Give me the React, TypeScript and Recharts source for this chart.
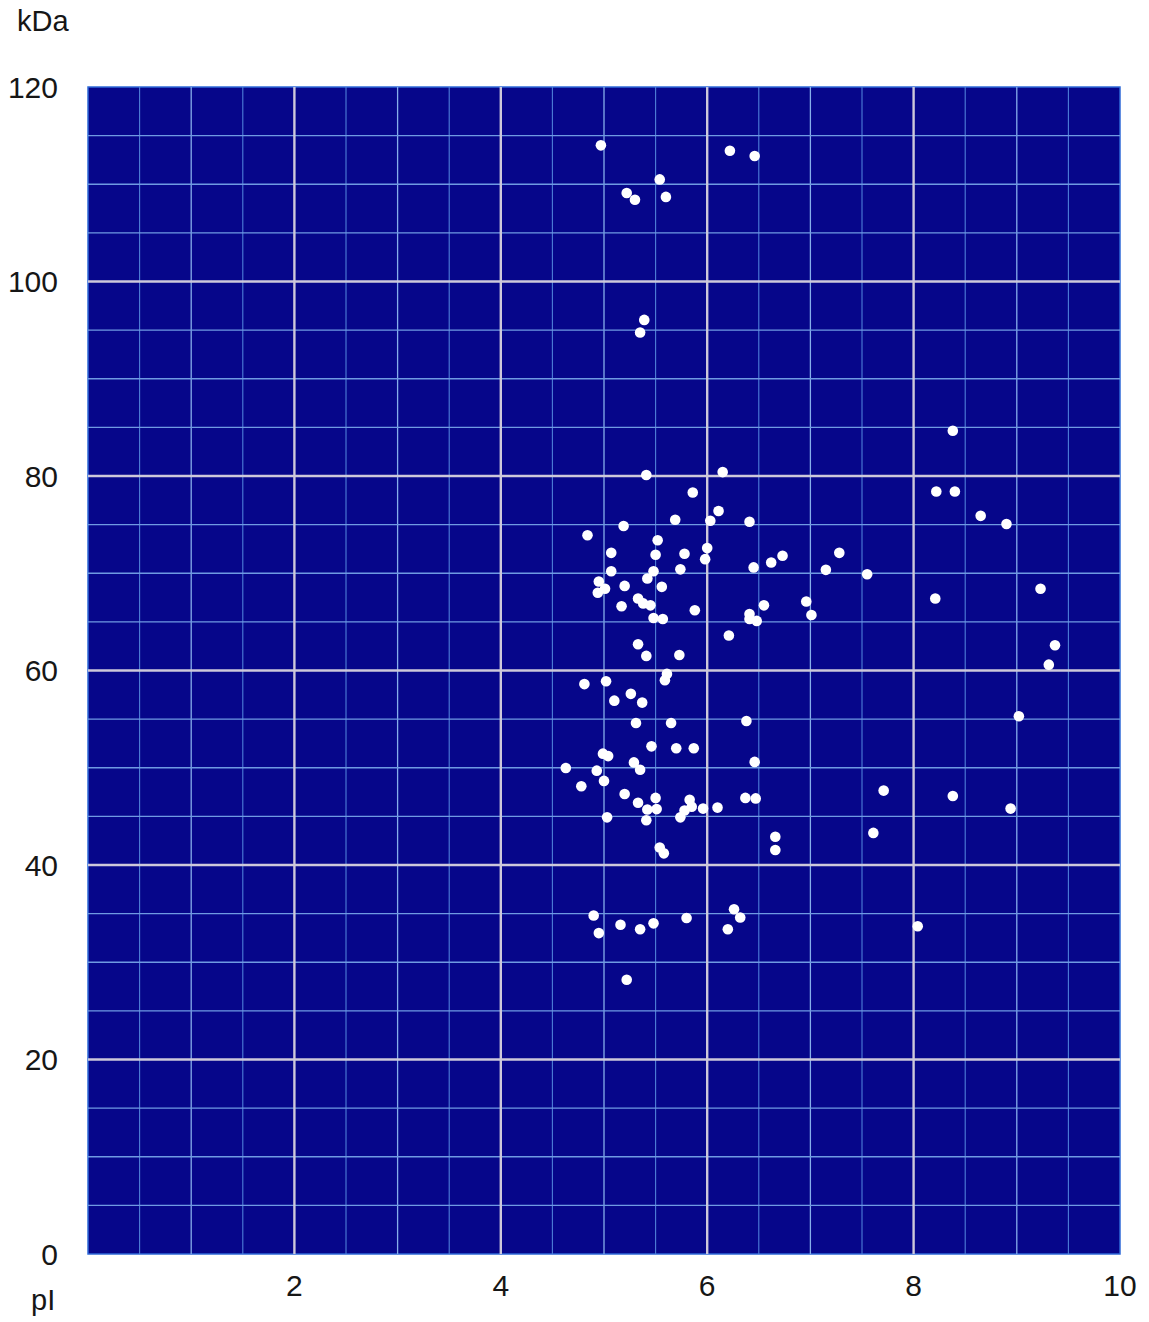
import React from 'react';
import {
  ScatterChart,
  Scatter,
  XAxis,
  YAxis,
  ReferenceLine,
  ReferenceArea,
} from 'recharts';

// ---- data ----
const xTicks = [2, 4, 6, 8, 10];
const yTicks = [0, 20, 40, 60, 80, 100, 120];
const xHalfLines = [0.5, 1.5, 2.5, 3.5, 4.5, 5.5, 6.5, 7.5, 8.5, 9.5];
const xUnitLines = [1, 3, 5, 7, 9];
const xMajorLines = [2, 4, 6, 8];
const yMinorLines = [5, 10, 15, 25, 30, 35, 45, 50, 55, 65, 70, 75, 85, 90, 95, 105, 110, 115];
const yMajorLines = [20, 40, 60, 80, 100];

const pIValues = [
  4.97, 6.22, 6.46, 5.54, 5.22, 5.3, 5.6, 5.39, 5.35,
  5.41, 6.15, 5.86, 6.11, 5.69, 6.03, 6.41, 5.19, 4.84, 5.52, 5.07, 5.5, 5.78, 6.0, 5.98,
  6.73, 6.62, 6.45, 5.07, 5.74, 5.48, 5.42, 4.95, 5.01, 4.94, 5.2, 5.56, 5.33, 5.38, 5.45,
  5.17, 5.88, 6.55, 6.41, 6.41, 6.48, 5.48, 5.57, 6.21, 5.33, 5.41, 5.73,
  5.61, 5.59, 4.81, 5.02, 5.26, 5.1, 5.37, 5.31, 5.65, 6.38, 5.46, 5.7, 5.87, 4.99, 5.04,
  6.46, 5.29, 5.35, 4.63, 4.93, 5.0, 4.78, 5.2, 5.5, 5.33, 5.42, 5.51, 5.83, 5.85, 5.78,
  5.74, 5.96, 6.1, 6.37, 6.47, 5.03, 5.41, 6.66, 6.66, 5.54, 5.58,
  4.9, 4.95, 5.16, 5.35, 5.48, 5.8, 6.26, 6.32, 6.2, 5.22,
  8.38, 8.22, 8.4, 8.65, 8.9, 7.28, 7.15, 7.55, 9.23, 8.21, 6.96, 7.01, 9.37, 9.31,
  7.71, 7.61, 8.38, 8.94, 9.02, 8.04,
];
const kDaValues = [
  114.0, 113.45, 112.9, 110.5, 109.1, 108.4, 108.7, 96.05, 94.76,
  80.1, 80.4, 78.3, 76.4, 75.5, 75.4, 75.3, 74.86, 73.9, 73.4, 72.1, 71.9, 72.0, 72.6, 71.45,
  71.8, 71.1, 70.6, 70.2, 70.4, 70.2, 69.46, 69.15, 68.4, 68.0, 68.7, 68.6, 67.4, 66.9, 66.7,
  66.6, 66.2, 66.7, 65.8, 65.3, 65.1, 65.4, 65.3, 63.6, 62.7, 61.5, 61.6,
  59.65, 59.0, 58.6, 58.9, 57.6, 56.9, 56.7, 54.6, 54.6, 54.8, 52.2, 52.0, 52.0, 51.45, 51.2,
  50.6, 50.55, 49.8, 49.97, 49.7, 48.65, 48.1, 47.3, 46.9, 46.4, 45.7, 45.75, 46.7, 46.0, 45.6,
  44.9, 45.8, 45.9, 46.9, 46.85, 44.9, 44.6, 42.9, 41.55, 41.8, 41.2,
  34.8, 33.0, 33.85, 33.4, 34.0, 34.55, 35.45, 34.6, 33.4, 28.2,
  84.66, 78.4, 78.4, 75.9, 75.07, 72.1, 70.35, 69.9, 68.4, 67.4, 67.1, 65.7, 62.6, 60.6,
  47.65, 43.3, 47.1, 45.8, 55.3, 33.7,
];

const spots = pIValues.map((p, i) => ({ pI: p, kDa: kDaValues[i] }));

const FONT = '"Liberation Sans", Arial, Helvetica, sans-serif';
const BG = '#06068a';
const HALF = '#4f80d8';
const UNIT = '#86aeea';
const YMINOR = '#6f9ae2';
const MAJOR = '#cdc8da';
const TEXT = '#161616';

const Dot = (props: any) => (
  <circle cx={props.cx} cy={props.cy} r={5.3} fill="#ffffff" />
);

export default function App() {
  return (
    <div style={{ position: 'relative', width: 1133, height: 1310, fontFamily: FONT }}>
      <div
        style={{
          position: 'absolute',
          left: 9,
          top: -1,
          fontSize: 29,
          lineHeight: '29px',
          color: TEXT,
        }}
      >
        kDa
      </div>
      <div
        style={{
          position: 'absolute',
          left: 23,
          top: 1278,
          fontSize: 29,
          lineHeight: '29px',
          color: TEXT,
        }}
      >
        pI
      </div>
      <ScatterChart
        width={1133}
        height={1310}
        margin={{ top: 79, right: 21, bottom: 0, left: 0 }}
      >
        <XAxis
          type="number"
          dataKey="pI"
          domain={[0, 10]}
          ticks={xTicks}
          axisLine={false}
          tickLine={false}
          tickSize={0}
          tickMargin={21}
          height={64}
          allowDataOverflow
          tick={{ fill: TEXT, fontSize: 30, fontFamily: FONT }}
        />
        <YAxis
          type="number"
          dataKey="kDa"
          domain={[0, 120]}
          ticks={yTicks}
          axisLine={false}
          tickLine={false}
          tickSize={0}
          tickMargin={30}
          width={80}
          allowDataOverflow
          tick={{ fill: TEXT, fontSize: 30, fontFamily: FONT }}
        />
        <ReferenceArea
          x1={0}
          x2={10}
          y1={0}
          y2={120}
          fill={BG}
          fillOpacity={1}
          stroke="#2f6ad8"
          strokeWidth={1.5}
        />
        {xHalfLines.map((v) => (
          <ReferenceLine key={'xh' + v} x={v} stroke={HALF} strokeWidth={1.1} />
        ))}
        {xUnitLines.map((v) => (
          <ReferenceLine key={'xu' + v} x={v} stroke={UNIT} strokeWidth={1.3} />
        ))}
        {yMinorLines.map((v) => (
          <ReferenceLine key={'ym' + v} y={v} stroke={YMINOR} strokeWidth={1.3} />
        ))}
        {xMajorLines.map((v) => (
          <ReferenceLine key={'xM' + v} x={v} stroke={MAJOR} strokeWidth={2.4} />
        ))}
        {yMajorLines.map((v) => (
          <ReferenceLine key={'yM' + v} y={v} stroke={MAJOR} strokeWidth={2.4} />
        ))}
        <Scatter data={spots} shape={Dot} isAnimationActive={false} />
      </ScatterChart>
    </div>
  );
}
